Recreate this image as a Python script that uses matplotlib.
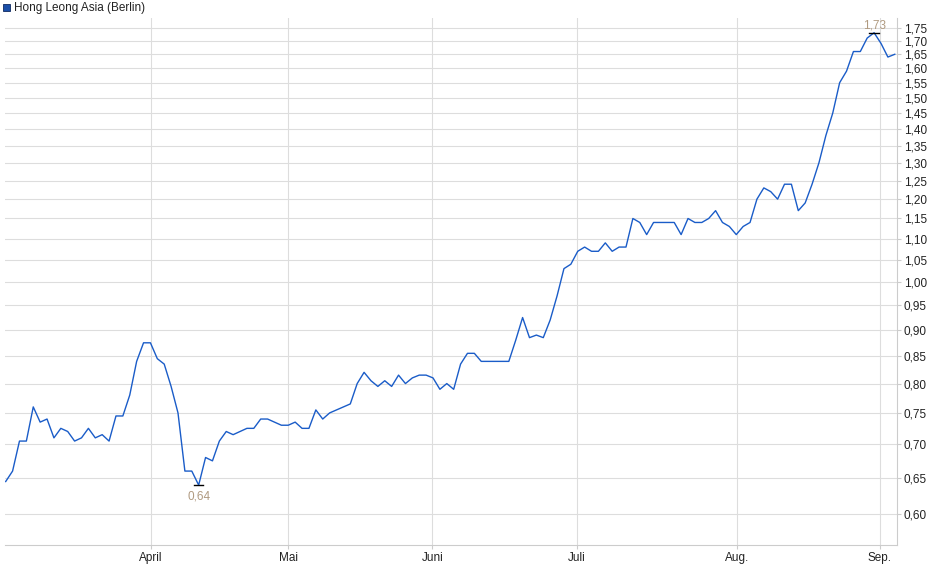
import matplotlib
matplotlib.use("Agg")
import matplotlib.pyplot as plt
import numpy as np
from matplotlib.ticker import FixedLocator, NullLocator

plt.rcParams['font.family'] = ['Liberation Sans', 'DejaVu Sans']

prices = [0.645, 0.66, 0.705, 0.705, 0.76, 0.735, 0.74, 0.71, 0.725, 0.72, 0.705, 0.71, 0.725, 0.71,
          0.715, 0.705, 0.745, 0.745, 0.78, 0.84, 0.875, 0.875, 0.845, 0.835, 0.795, 0.75, 0.66, 0.66,
          0.64, 0.68, 0.675, 0.705, 0.72, 0.715, 0.72, 0.725, 0.725, 0.74, 0.74, 0.735, 0.73, 0.73,
          0.735, 0.725, 0.725, 0.755, 0.74, 0.75, 0.755, 0.76, 0.765, 0.80, 0.82, 0.805, 0.795, 0.805,
          0.795, 0.815, 0.80, 0.81, 0.815, 0.815, 0.81, 0.79, 0.80, 0.79, 0.835, 0.855, 0.855, 0.84,
          0.84, 0.84, 0.84, 0.84, 0.88, 0.925, 0.885, 0.89, 0.885, 0.92, 0.97, 1.03, 1.04, 1.07, 1.08,
          1.07, 1.07, 1.09, 1.07, 1.08, 1.08, 1.15, 1.14, 1.11, 1.14, 1.14, 1.14, 1.14, 1.11, 1.15,
          1.14, 1.14, 1.15, 1.17, 1.14, 1.13, 1.11, 1.13, 1.14, 1.20, 1.23, 1.22, 1.20, 1.24, 1.24,
          1.17, 1.19, 1.24, 1.30, 1.38, 1.45, 1.55, 1.59, 1.66, 1.66, 1.71, 1.73, 1.69, 1.64, 1.65]
month_labels = ["April", "Mai", "Juni", "Juli", "Aug.", "Sep."]
month_frac = [0.1629, 0.3180, 0.4798, 0.6427, 0.8225, 0.9831]  # fraction of x-span
y_ticks = [0.60, 0.65, 0.70, 0.75, 0.80, 0.85, 0.90, 0.95, 1.00, 1.05, 1.10, 1.15, 1.20, 1.25,
           1.30, 1.35, 1.40, 1.45, 1.50, 1.55, 1.60, 1.65, 1.70, 1.75]
legend_label = "Hong Leong Asia (Berlin)"

n = len(prices)
x = np.arange(n)
fig = plt.figure(figsize=(9.4, 5.79), dpi=100)
ax = fig.add_axes([5/940, 1-545/579, (897-5)/940, (545-18)/579])
line_color = "#1a5cc8"
ax.plot(x, prices, color=line_color, lw=1.0)
ax.set_yscale("log")
ax.set_ylim(0.561, 1.787)
ax.set_xlim(-0.1, (n-1)*1.0025)
ax.yaxis.set_major_locator(FixedLocator(y_ticks))
ax.yaxis.set_minor_locator(NullLocator())
ax.set_yticklabels([f"{v:.2f}".replace(".", ",") for v in y_ticks])
ax.yaxis.tick_right()
ax.set_xticks([f*(n-1) for f in month_frac])
ax.set_xticklabels(month_labels)
ax.tick_params(axis="both", labelsize=8.5, length=3, color="#cccccc", labelcolor="#222222", pad=2)
ax.grid(True, color="#dddddd", lw=0.8)
ax.set_axisbelow(True)
for s in ["top", "left"]:
    ax.spines[s].set_visible(False)
for s in ["right", "bottom"]:
    ax.spines[s].set_color("#cccccc")

imin = int(np.argmin(prices)); imax = int(np.argmax(prices))
for i, off, va in [(imin, -4, "top"), (imax, 1, "bottom")]:
    ax.plot([i-0.7, i+0.7], [prices[i]]*2, color="black", lw=1)
    ax.annotate(f"{prices[i]:.2f}".replace(".", ","), (i, prices[i]), xytext=(0, off),
                textcoords="offset points", ha="center", va=va, fontsize=8.5, color="#b09a80")

fig.patches.append(plt.Rectangle((3/940, 1-11/579), 7/940, 7/579, transform=fig.transFigure,
                                 facecolor="#1a4fa8", edgecolor="#102a60", lw=0.6))
fig.text(14/940, 1-7.5/579, legend_label, fontsize=8.5, va="center", color="#222222")
fig.savefig("out.png", dpi=100)
